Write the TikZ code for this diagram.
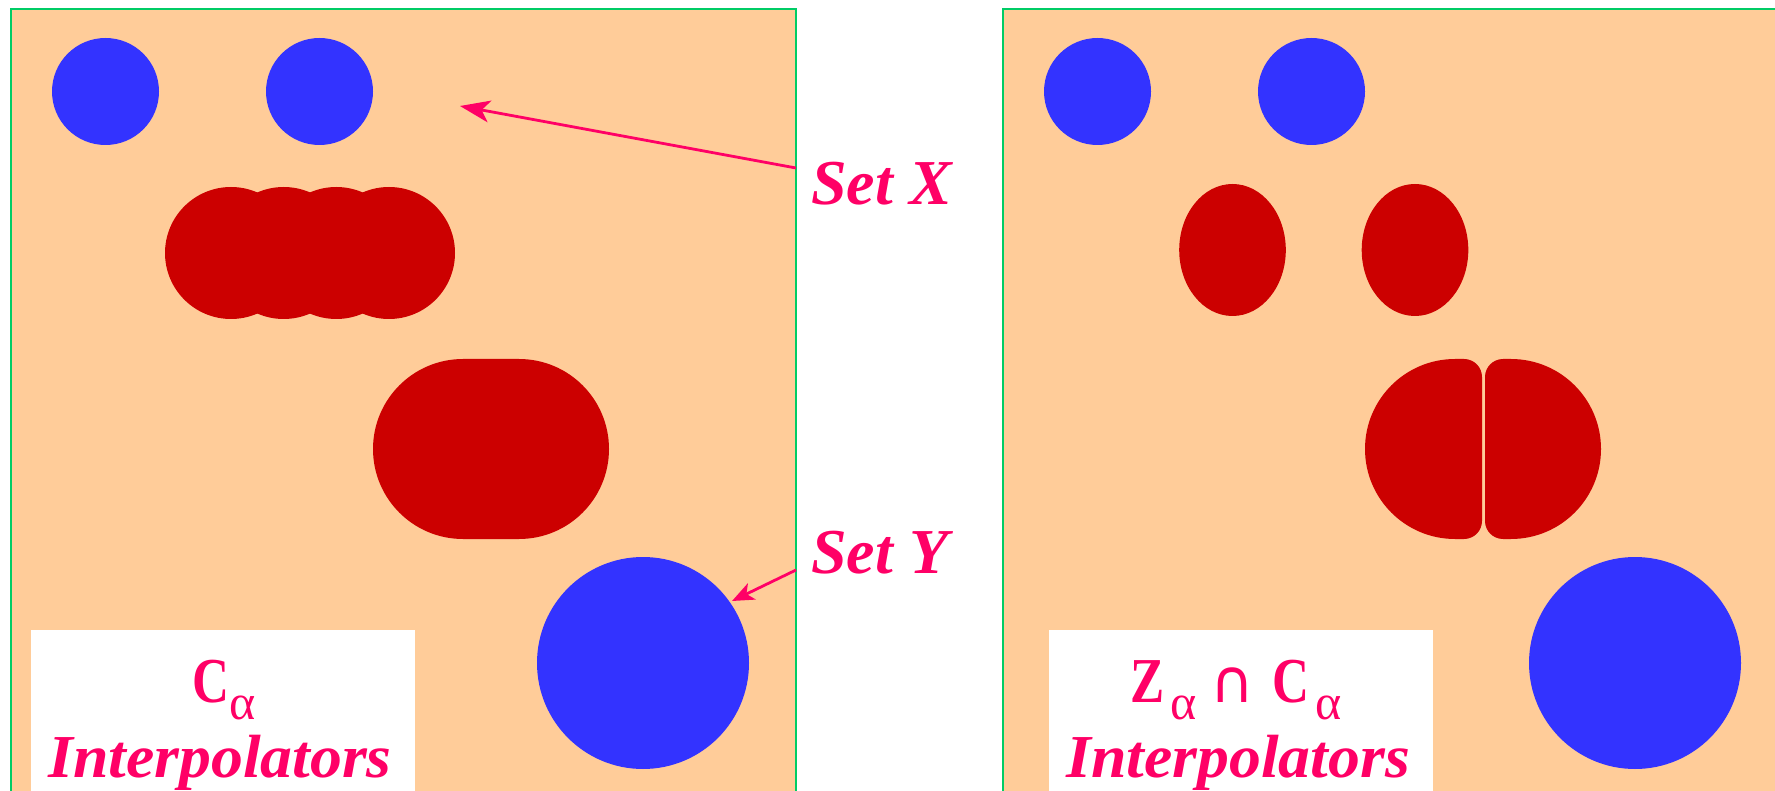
\documentclass[tikz,border=0pt]{standalone}
\usepackage{fontspec}
\setmainfont{Liberation Serif}
\newfontfamily\capsym{DejaVu Sans}
\usetikzlibrary{arrows.meta}

\definecolor{peach}{RGB}{255,204,153}
\definecolor{setblue}{RGB}{51,51,255}
\definecolor{setred}{RGB}{204,0,0}
\definecolor{framegreen}{RGB}{0,204,102}
\definecolor{labelpink}{RGB}{255,0,102}

\newcommand{\subalpha}{\raisebox{-17pt}{\fontsize{50}{50}\selectfont\mdseries α}}
\newcommand{\narrowcap}[1]{\scalebox{0.8}[1]{#1}}

\tikzset{
    panel/.style={fill=peach, draw=framegreen, line width=2.5pt},
    labelbox/.style={fill=white},
    setlabel/.style={text=labelpink, inner sep=0pt,
        font=\fontsize{64}{64}\selectfont\bfseries\itshape},
    capline/.style={text=labelpink, inner sep=0pt,
        font=\fontsize{64}{64}\selectfont\bfseries},
    interp/.style={text=labelpink, inner sep=0pt,
        font=\fontsize{61}{61}\selectfont\bfseries\itshape},
    pointer/.style={draw=labelpink, line width=2.8pt}
}

\begin{document}
\begin{tikzpicture}[x=1pt, y=-1pt]
        \useasboundingbox (0,0) rectangle (1775,791);
        \clip (0,0) rectangle (1775,791);

        % Felder
        \filldraw[panel] (11,9) rectangle (796,820);
        \filldraw[panel] (1003,9) rectangle (1800,820);

        % blaue Kreise
        \foreach \dx in {0,992} {
                \fill[setblue] (105.5+\dx,91.5) circle (53.5pt);
                \fill[setblue] (319.5+\dx,91.5) circle (53.5pt);
                \fill[setblue] (643+\dx,663) circle (106pt);
            }

        % rote Reihe links
        \foreach \cx in {231,283.7,336.3,389} {
                \fill[setred] (\cx,253) circle (66pt);
            }
        % rote Flaeche links
        \fill[setred, rounded corners=90pt] (373,359) rectangle (609,539);

        % rote Ellipsen rechts
        \fill[setred] (1232.5,250) ellipse (53.3pt and 66pt);
        \fill[setred] (1415,250) ellipse (53.3pt and 66pt);

        % geteilte Flaeche rechts
        \begin{scope}
            \clip[rounded corners=18pt] (1300,359) rectangle (1482,539);
            \fill[setred, rounded corners=90pt] (1365,359) rectangle (1601,539);
        \end{scope}
        \begin{scope}
            \clip[rounded corners=18pt] (1485,359) rectangle (1700,539);
            \fill[setred, rounded corners=90pt] (1365,359) rectangle (1601,539);
        \end{scope}

        % Beschriftung
        \fill[labelbox] (31,630) rectangle (415,820);
        \fill[labelbox] (1049,630) rectangle (1433,820);
        \node[capline, anchor=base] (cleft) at (224,702)
            {\narrowcap{C}\subalpha};
        \node[interp, anchor=base] (ileft) at (220,777)
            {\scalebox{1.045}[1]{Interpolators}};
        \node[capline, anchor=base] (cright) at (1236,702)
            {\narrowcap{Z}\hspace{6pt}\subalpha\hspace{14pt}{\capsym\mdseries\fontsize{60}{60}\selectfont ∩}\hspace{18pt}\narrowcap{C}\hspace{6pt}\subalpha};
        \node[interp, anchor=base] (iright) at (1238,777)
            {\scalebox{1.045}[1]{Interpolators}};

        % Pfeile
        \node[setlabel, anchor=base west] (setx) at (811,205) {Set X};
        \node[setlabel, anchor=base west] (sety) at (811,573) {Set Y};
        \coordinate (xfrom) at (796,168);
        \coordinate (xtip) at (460,106);
        \coordinate (yfrom) at (796,570);
        \coordinate (ytip) at (732,601);
        \draw[pointer, -{Stealth[length=30pt, width=22pt, inset=8pt]}] (xfrom) -- (xtip);
        \draw[pointer, -{Stealth[length=22pt, width=18pt, inset=6pt]}] (yfrom) -- (ytip);

    \end{tikzpicture}
\end{document}
